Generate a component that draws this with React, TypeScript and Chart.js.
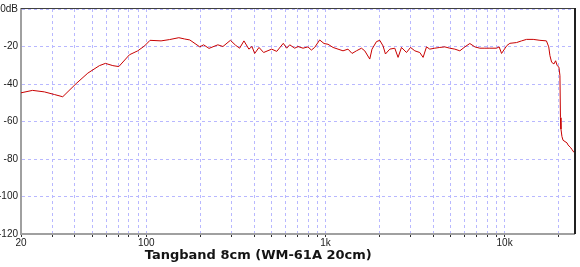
import React, { useEffect, useRef } from 'react';
import { Chart, registerables } from 'chart.js';

Chart.register(...registerables);

// Frequency (Hz) of each measured point
const freqs = [
  20, 23.2, 27, 30.7, 34.2, 40.6, 47.2, 54.8, 59.2, 65.1,
  70.3, 80.6, 89.7, 97.8, 105, 121, 135, 152, 164, 175,
  199, 209, 224, 251, 268, 295, 315, 332, 351, 374,
  389, 403, 426, 452, 501, 535, 582, 608, 632, 674,
  703, 750, 799, 835, 871, 929, 982, 1034, 1103, 1176,
  1254, 1337, 1408, 1490, 1589, 1658, 1768, 1820, 1927, 2011,
  2098, 2163, 2287, 2439, 2544, 2658, 2835, 2985, 3155, 3363,
  3509, 3666, 3824, 4079, 4349, 4638, 4946, 5277, 5626, 6000,
  6398, 6825, 7278, 7762, 8277, 9020, 9327, 9617, 10296, 10706,
  11660, 12439, 13268, 14440, 15748, 17120, 17637, 17912, 18304, 18855,
  19270, 19670, 20100, 20370, 20500, 20630, 20900, 21200, 22300, 22600,
  23400, 23800, 24400,
];

// Level (dB) at each frequency
const levels = [
  -44.7, -43.4, -44.2, -45.6, -46.8, -39.8, -34.2, -30.2, -29, -30.2,
  -30.7, -24.4, -22.3, -19.7, -16.7, -17, -16.3, -15.3, -16, -16.5,
  -20.2, -19.1, -21, -19.1, -20, -16.7, -19.3, -20.9, -17, -21.4,
  -20, -23.7, -20.5, -23.2, -21.4, -22.6, -18.3, -20.9, -19.1, -20.9,
  -20, -20.9, -20.2, -21.9, -20.5, -16.5, -18.4, -18.8, -20.5, -21.4,
  -22.3, -21.4, -23.7, -22.3, -20.9, -22.3, -26.7, -21.4, -17.4, -16.7,
  -19.7, -24, -21.4, -20.9, -25.8, -20.5, -23.2, -20.5, -22.3, -23.2,
  -25.8, -20.2, -21.4, -20.9, -20.5, -20.2, -20.9, -21.4, -22.3, -20.2,
  -18.4, -20.2, -20.9, -20.9, -20.9, -20.9, -20.2, -23.7, -19.5, -18.3,
  -17.9, -17, -16.2, -16.2, -16.7, -17, -20.2, -24.9, -28.4, -29.3,
  -27.6, -30.2, -31, -35.5, -58, -64, -68, -70, -71.4, -72.5,
  -74, -75, -76.5,
];

const gridFreqs = [
  20, 30, 40, 50, 60, 70, 80, 90,
  100, 200, 300, 400, 500, 600, 700, 800, 900,
  1000, 2000, 3000, 4000, 5000, 6000, 7000, 8000, 9000,
  10000, 20000,
];
const freqLabels: Record<number, string> = { 20: '20', 100: '100', 1000: '1k', 10000: '10k' };
const levelTicks = [0, -20, -40, -60, -80, -100, -120];
const title = 'Tangband 8cm (WM-61A 20cm)';

const X_MIN = 20;
const X_MAX = 24400;

export default function App() {
  const ref = useRef<HTMLCanvasElement | null>(null);

  useEffect(() => {
    document.body.style.margin = '0';
    const canvas = ref.current;
    if (!canvas) return;

    const framePlugin = {
      id: 'frame',
      afterDraw(chart: any) {
        const { ctx, chartArea } = chart;
        ctx.save();
        ctx.strokeStyle = '#404040';
        ctx.lineWidth = 1;
        ctx.beginPath();
        ctx.moveTo(chartArea.left, chartArea.top - 0.5);
        ctx.lineTo(chartArea.right, chartArea.top - 0.5);
        ctx.stroke();
        ctx.lineWidth = 2;
        ctx.strokeStyle = '#202020';
        ctx.beginPath();
        ctx.moveTo(chartArea.right + 1, chartArea.top - 1);
        ctx.lineTo(chartArea.right + 1, chartArea.bottom);
        ctx.stroke();
        ctx.font = 'bold 13px "DejaVu Sans", sans-serif';
        ctx.fillStyle = '#141414';
        ctx.textAlign = 'center';
        ctx.textBaseline = 'middle';
        const cx = chartArea.left + (chartArea.right - chartArea.left) * 0.429;
        ctx.fillText(title, cx, chartArea.bottom + 22);
        ctx.restore();
      },
    };

    const chart = new Chart(canvas, {
      type: 'line',
      data: {
        datasets: [
          {
            data: freqs.map((f, i) => ({ x: f, y: levels[i] })),
            borderColor: '#c80000',
            borderWidth: 1,
            pointRadius: 0,
            tension: 0,
            fill: false,
          },
        ],
      },
      options: {
        responsive: false,
        animation: false,
        devicePixelRatio: 1,
        layout: { padding: { top: 4, right: 6, left: 0, bottom: 0 } },
        plugins: { legend: { display: false }, tooltip: { enabled: false }, title: { display: false } },
        scales: {
          x: {
            type: 'logarithmic',
            min: X_MIN,
            max: X_MAX,
            afterBuildTicks: (axis: any) => {
              axis.ticks = gridFreqs.map((v) => ({ value: v }));
            },
            afterFit: (axis: any) => {
              axis.height = 33;
            },
            ticks: {
              autoSkip: false,
              maxRotation: 0,
              minRotation: 0,
              padding: 0,
              color: '#202020',
              font: { family: '"Liberation Sans Narrow", "Liberation Sans", sans-serif', size: 10 },
              callback: (v: any) => freqLabels[Number(v)] ?? '',
            },
            grid: {
              color: '#b8b8ff',
              lineWidth: 1,
              drawTicks: true,
              tickLength: 3,
              tickColor: '#303030',
            },
            border: { display: true, color: '#a0a0a0', width: 2, dash: [3, 3] },
          },
          y: {
            type: 'linear',
            min: -120,
            max: 0,
            afterBuildTicks: (axis: any) => {
              axis.ticks = levelTicks.map((v) => ({ value: v }));
            },
            afterFit: (axis: any) => {
              axis.width = 21;
            },
            ticks: {
              padding: 3,
              color: '#202020',
              font: { family: '"Liberation Sans Narrow", "Liberation Sans", sans-serif', size: 10 },
              callback: (v: any) => (Number(v) === 0 ? '0dB' : String(v)),
            },
            grid: {
              color: '#b8b8ff',
              lineWidth: 1,
              drawTicks: false,
            },
            border: { display: true, color: '#a0a0a0', width: 2, dash: [3, 3] },
          },
        },
      },
      plugins: [framePlugin],
    });

    return () => chart.destroy();
  }, []);

  return (
    <div style={{ width: 580, height: 267, background: '#fff' }}>
      <canvas ref={ref} width={580} height={267} />
    </div>
  );
}
